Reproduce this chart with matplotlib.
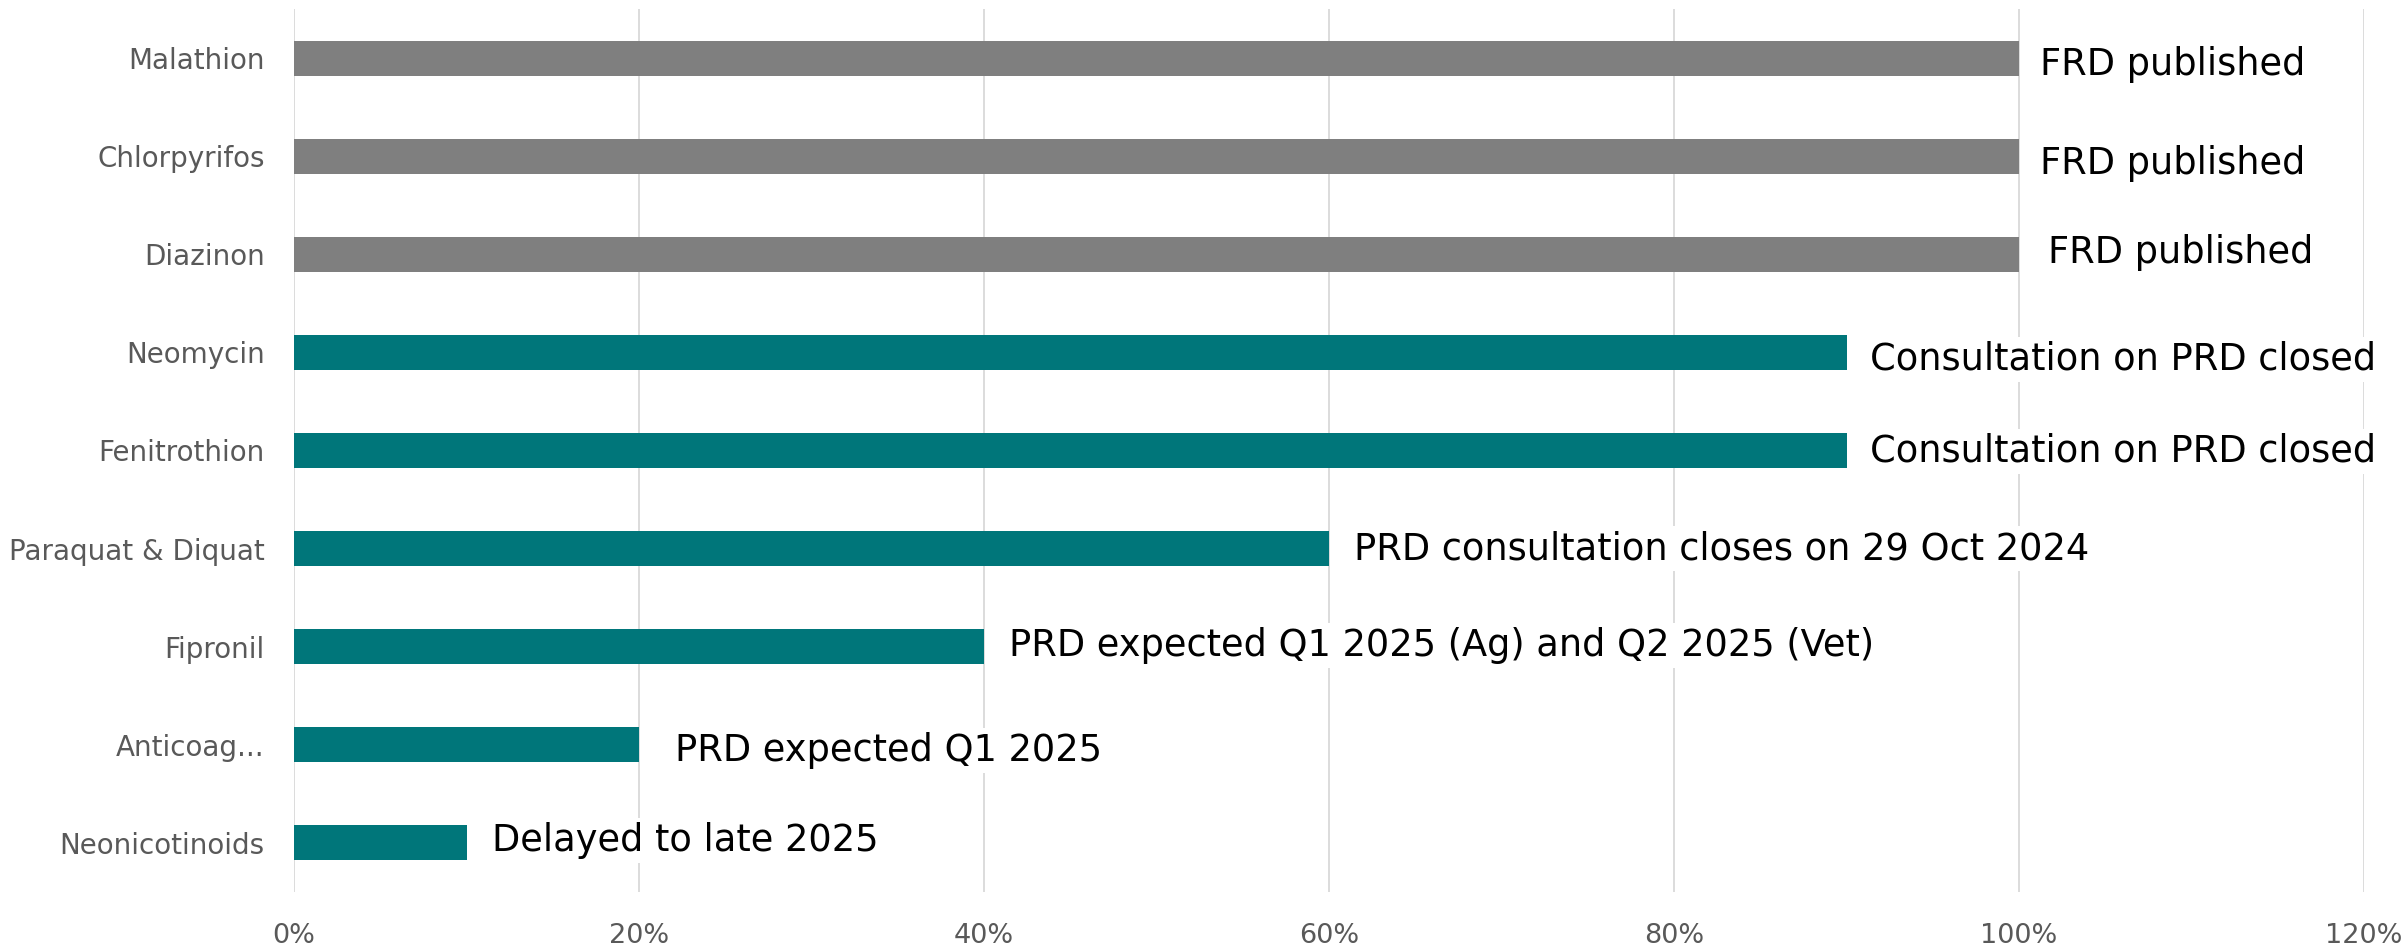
import matplotlib
matplotlib.use('Agg')
import matplotlib.pyplot as plt
import numpy as np

# data (top to bottom)
substances = ['Malathion', 'Chlorpyrifos', 'Diazinon', 'Neomycin', 'Fenitrothion',
              'Paraquat & Diquat', 'Fipronil', 'Anticoag...', 'Neonicotinoids']
progress = [100, 100, 100, 90, 90, 60, 40, 20, 10]
status = ['FRD published', 'FRD published', 'FRD published',
          'Consultation on PRD closed', 'Consultation on PRD closed',
          'PRD consultation closes on 29 Oct 2024',
          'PRD expected Q1 2025 (Ag) and Q2 2025 (Vet)',
          'PRD expected Q1 2025', 'Delayed to late 2025']
finished = [True, True, True, False, False, False, False, False, False]
xticks = [0, 20, 40, 60, 80, 100, 120]

# label nudges in pixels (x right, y down) -- just layout
lab_dx = [21, 21, 29, 24, 24, 25, 25, 36, 25]
lab_dy = [6, 7, -2, 7, 1, 0, -1, 6, -2]

GREY = '#7f7f7f'
TEAL = '#00767a'

plt.rcParams['font.family'] = ['DejaVu Sans']

fig = plt.figure(figsize=(24.07, 9.49), dpi=100)
ax = fig.add_axes([294/2407, 1 - 892/949, (2364 - 294)/2407, (892 - 9)/949])

y_pos = np.arange(len(substances))
colors = [GREY if f else TEAL for f in finished]
ax.barh(y_pos, progress, height=0.357, color=colors, zorder=2)

for i in range(len(substances)):
    ax.annotate(status[i], xy=(progress[i], y_pos[i]),
                xytext=(lab_dx[i]*0.72, -lab_dy[i]*0.72), textcoords='offset points',
                ha='left', va='center', fontsize=26.5, color='black', zorder=4,
                bbox=dict(facecolor='white', edgecolor='none', pad=3))

ax.set_ylim(len(substances) - 0.5, -0.5)
ax.set_xlim(0, 120)
ax.set_yticks(y_pos)
ax.set_yticklabels(substances)
ax.set_xticks(xticks)
ax.set_xticklabels([f'{t}%' for t in xticks])
ax.tick_params(axis='y', length=0, pad=21, labelsize=20, labelcolor='#595959')
ax.tick_params(axis='x', length=0, pad=22, labelsize=19.5, labelcolor='#595959')

ax.grid(axis='x', color='#d9d9d9', linewidth=1.3)
ax.grid(axis='y', visible=False)
ax.set_axisbelow(True)
for s in ax.spines.values():
    s.set_visible(False)

fig.savefig('out.png', dpi=100, facecolor='white')
